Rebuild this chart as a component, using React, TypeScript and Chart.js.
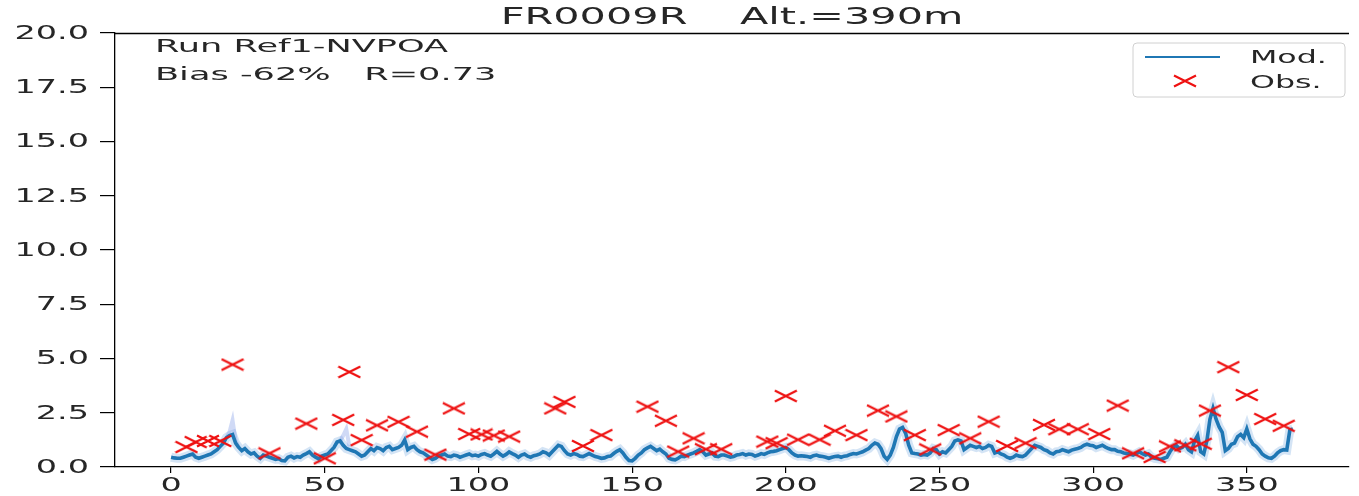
import React, { useEffect, useRef } from "react";
import { Chart, registerables } from "chart.js";
Chart.register(...registerables);

const titleText = "FR0009R    Alt.=390m";
const annotLine1 = "Run Ref1-NVPOA";
const annotLine2 = "Bias -62%   R=0.73";
const legendMod = "Mod.";
const legendObs = "Obs.";

const xTickValues = [0, 50, 100, 150, 200, 250, 300, 350];
const yTickStep = 2.5;

// daily model values, day 0..365
const modValues = [
  0.45,0.42,0.40,0.40,0.45,0.50,0.55,0.60,0.45,0.40,
  0.45,0.50,0.55,0.60,0.70,0.80,0.95,1.10,1.35,1.45,
  1.50,1.10,0.90,0.75,0.85,0.70,0.60,0.65,0.50,0.40,
  0.55,0.50,0.45,0.40,0.35,0.38,0.30,0.28,0.45,0.50,
  0.42,0.48,0.45,0.55,0.62,0.70,0.55,0.45,0.38,0.50,
  0.55,0.60,0.75,0.90,1.15,1.20,1.00,0.85,0.80,0.75,
  0.70,0.60,0.50,0.55,0.70,0.85,0.75,0.90,0.85,0.75,
  0.90,0.95,0.80,0.85,0.90,1.00,1.25,0.80,0.90,0.95,
  0.80,0.70,0.65,0.55,0.45,0.35,0.40,0.50,0.55,0.60,
  0.50,0.48,0.55,0.52,0.45,0.50,0.55,0.60,0.52,0.55,
  0.50,0.58,0.62,0.55,0.50,0.60,0.72,0.60,0.50,0.58,
  0.70,0.62,0.55,0.45,0.55,0.60,0.50,0.45,0.52,0.55,
  0.60,0.70,0.65,0.55,0.70,0.85,1.00,0.95,0.75,0.60,
  0.55,0.62,0.58,0.50,0.48,0.55,0.62,0.55,0.48,0.45,
  0.40,0.42,0.48,0.50,0.62,0.72,0.80,0.65,0.45,0.30,
  0.28,0.40,0.55,0.65,0.80,0.88,0.95,0.85,0.75,0.82,
  0.70,0.60,0.40,0.35,0.33,0.40,0.50,0.48,0.55,0.60,
  0.65,0.72,0.80,0.70,0.55,0.60,0.65,0.50,0.48,0.55,
  0.55,0.50,0.45,0.48,0.55,0.58,0.62,0.55,0.60,0.58,
  0.50,0.55,0.62,0.58,0.65,0.70,0.72,0.75,0.80,0.85,
  0.90,0.80,0.65,0.55,0.50,0.52,0.50,0.48,0.45,0.52,
  0.55,0.50,0.48,0.45,0.40,0.45,0.48,0.50,0.45,0.50,
  0.52,0.58,0.62,0.60,0.65,0.70,0.78,0.85,1.00,1.10,
  1.05,0.85,0.50,0.35,0.55,0.90,1.40,1.75,1.82,1.55,
  1.00,0.65,0.62,0.60,0.55,0.58,0.55,0.65,0.85,0.80,
  0.60,0.70,0.65,0.80,0.95,1.20,1.25,1.20,0.80,0.90,
  1.00,0.95,0.90,0.95,0.85,0.90,1.00,0.95,0.65,0.70,
  0.60,0.55,0.45,0.40,0.45,0.55,0.50,0.48,0.55,0.70,
  0.85,1.00,0.95,0.90,0.80,0.75,0.65,0.60,0.70,0.72,
  0.80,0.75,0.70,0.78,0.82,0.85,0.90,1.00,1.05,1.00,
  0.98,0.90,0.95,1.00,0.92,0.85,0.80,0.80,0.72,0.70,
  0.65,0.62,0.60,0.55,0.62,0.70,0.62,0.55,0.60,0.45,
  0.40,0.38,0.35,0.40,0.45,0.70,0.90,1.00,0.85,0.90,
  1.05,0.80,0.70,1.20,1.45,0.70,0.60,1.20,2.20,2.70,
  2.20,1.85,1.60,0.75,0.85,1.05,1.10,1.40,1.50,1.35,
  1.75,1.30,1.05,0.95,0.80,0.60,0.50,0.42,0.40,0.50,
  0.65,0.75,0.80,0.78,1.70,1.75,
];

// upper edge of the ensemble spread where it sticks out above the line
const bandDays = [18, 19, 20, 21, 22, 23, 55, 56, 57, 58, 59];
const bandHigh = [1.35, 1.6, 2.15, 1.2, 0.9, null, 1.2, 1.45, 1.75, 0.95, null];

const obsDays = [5,8,12,16,20,32,44,50,56,58,62,67,74,80,86,92,97,101,105,110,125,128,134,140,155,161,165,170,174,179,194,197,200,204,211,216,223,230,236,242,247,253,260,266,272,278,284,289,295,302,308,313,320,325,330,335,338,344,350,356,362];
const obsValues = [0.92,1.15,1.2,1.2,4.72,0.63,2.0,0.4,2.17,4.38,1.24,1.92,2.08,1.63,0.57,2.7,1.52,1.5,1.45,1.4,2.7,3.0,0.97,1.47,2.78,2.13,0.71,1.32,0.82,0.82,1.17,1.1,3.27,1.26,1.26,1.67,1.47,2.6,2.33,1.47,0.81,1.7,1.32,2.09,0.97,1.1,1.94,1.74,1.74,1.52,2.83,0.63,0.46,0.95,1.0,1.07,2.6,4.6,3.32,2.21,1.9];

const FONT = "DejaVu Sans";
const TEXT_COLOR = "#262626";
const SX = 1.76;

function makeCross(): HTMLCanvasElement {
  const c = document.createElement("canvas");
  c.width = 24;
  c.height = 14;
  const g = c.getContext("2d")!;
  g.strokeStyle = "#ee1111";
  g.lineWidth = 2.2;
  g.lineCap = "butt";
  g.beginPath();
  g.moveTo(1, 1.5);
  g.lineTo(23, 12.5);
  g.moveTo(1, 12.5);
  g.lineTo(23, 1.5);
  g.stroke();
  return c;
}

function stretchText(
  ctx: CanvasRenderingContext2D,
  text: string,
  x: number,
  y: number,
  size: number,
  sx: number,
  align: "left" | "center" | "right",
  baseline: CanvasTextBaseline
) {
  ctx.save();
  ctx.font = `${size}px "${FONT}"`;
  ctx.textAlign = "left";
  ctx.textBaseline = baseline;
  ctx.fillStyle = TEXT_COLOR;
  const w = ctx.measureText(text).width * sx;
  const x0 = align === "left" ? x : align === "center" ? x - w / 2 : x - w;
  ctx.translate(x0, y);
  ctx.scale(sx, 1);
  ctx.fillText(text, 0, 0);
  ctx.restore();
}

export default function App() {
  const ref = useRef<HTMLCanvasElement | null>(null);

  useEffect(() => {
    document.body.style.margin = "0";
    const canvas = ref.current!;
    const cross = makeCross();

    const modPoints = modValues.map((v, i) => ({ x: i, y: v }));
    const bandPoints = bandDays.map((d, i) => ({ x: d, y: bandHigh[i] }));
    const obsPoints = obsDays.map((d, i) => ({ x: d, y: obsValues[i] }));

    const decor = {
      id: "decor",
      afterDraw(chart: any) {
        const ctx: CanvasRenderingContext2D = chart.ctx;
        const a = chart.chartArea;
        const xs = chart.scales.x;
        const ys = chart.scales.y;
        // top spine
        ctx.save();
        ctx.strokeStyle = "#000";
        ctx.lineWidth = 1.3;
        ctx.beginPath();
        ctx.moveTo(a.left, a.top + 0.5);
        ctx.lineTo(a.right, a.top + 0.5);
        ctx.stroke();
        ctx.restore();

        // tick labels
        ys.ticks.forEach((t: any) => {
          stretchText(ctx, Number(t.value).toFixed(1), 89, ys.getPixelForValue(t.value) + 1, 19, SX, "right", "middle");
        });
        xs.ticks.forEach((t: any) => {
          stretchText(ctx, String(t.value), xs.getPixelForValue(t.value), a.bottom + 10, 19, SX, "center", "top");
        });

        // title
        stretchText(ctx, titleText, (a.left + a.right) / 2, 24, 23, 1.8, "center", "alphabetic");

        // annotation
        stretchText(ctx, annotLine1, 155, 52, 18.5, 1.9, "left", "alphabetic");
        stretchText(ctx, annotLine2, 155, 80, 18.5, 1.9, "left", "alphabetic");

        // legend
        const lx = 1133, ly = 43, lw = 212, lh = 54, r = 4;
        ctx.save();
        ctx.fillStyle = "rgba(255,255,255,0.85)";
        ctx.strokeStyle = "#d0d0d0";
        ctx.lineWidth = 1;
        ctx.beginPath();
        ctx.moveTo(lx + r, ly);
        ctx.lineTo(lx + lw - r, ly);
        ctx.quadraticCurveTo(lx + lw, ly, lx + lw, ly + r);
        ctx.lineTo(lx + lw, ly + lh - r);
        ctx.quadraticCurveTo(lx + lw, ly + lh, lx + lw - r, ly + lh);
        ctx.lineTo(lx + r, ly + lh);
        ctx.quadraticCurveTo(lx, ly + lh, lx, ly + lh - r);
        ctx.lineTo(lx, ly + r);
        ctx.quadraticCurveTo(lx, ly, lx + r, ly);
        ctx.closePath();
        ctx.fill();
        ctx.stroke();
        ctx.strokeStyle = "#1f77b4";
        ctx.lineWidth = 2.2;
        ctx.beginPath();
        ctx.moveTo(1145, 57);
        ctx.lineTo(1220, 57);
        ctx.stroke();
        ctx.drawImage(cross, 1185 - 12, 81 - 7);
        ctx.restore();
        stretchText(ctx, legendMod, 1250, 63, 18, SX, "left", "alphabetic");
        stretchText(ctx, legendObs, 1250, 88, 18, SX, "left", "alphabetic");
      },
    };

    const chart = new Chart(canvas, {
      type: "line",
      data: {
        datasets: [
          {
            label: "Obs.",
            data: obsPoints,
            showLine: false,
            pointStyle: cross as any,
            pointRadius: 10,
            borderWidth: 0,
            order: 0,
          },
          {
            label: "Mod.",
            data: modPoints,
            borderColor: "#1f77b4",
            borderWidth: 3.6,
            pointRadius: 0,
            tension: 0,
            order: 1,
          },
          {
            label: "spread",
            data: bandPoints,
            borderColor: "rgba(120,150,230,0.35)",
            borderWidth: 4,
            pointRadius: 0,
            spanGaps: false,
            order: 2,
          },
          {
            label: "spread-body",
            data: modPoints,
            borderColor: "rgba(60,130,210,0.22)",
            borderWidth: 9,
            pointRadius: 0,
            tension: 0,
            order: 3,
          },
        ] as any,
      },
      options: {
        animation: false,
        responsive: false,
        devicePixelRatio: 1,
        layout: { padding: { top: 33, right: 0, left: 0, bottom: 0 } },
        plugins: {
          legend: { display: false },
          title: { display: false },
          tooltip: { enabled: false },
        },
        scales: {
          x: {
            type: "linear",
            min: -18.25,
            max: 383.25,
            afterBuildTicks: (s: any) => {
              s.ticks = xTickValues.map((v) => ({ value: v }));
            },
            afterFit: (s: any) => {
              s.height = 29;
            },
            ticks: { display: false },
            grid: { drawOnChartArea: false, drawTicks: true, tickLength: 6, color: "#000", lineWidth: 1.2 },
            border: { display: true, color: "#000", width: 1.3 },
          },
          y: {
            type: "linear",
            min: 0,
            max: 20,
            ticks: { display: false, stepSize: yTickStep },
            afterFit: (s: any) => {
              s.width = 115;
            },
            grid: { drawOnChartArea: false, drawTicks: true, tickLength: 15, color: "#000", lineWidth: 1.2 },
            border: { display: true, color: "#000", width: 1.3 },
          },
        },
      } as any,
      plugins: [decor],
    });
    return () => chart.destroy();
  }, []);

  return (
    <div style={{ width: 1359, height: 496, position: "relative", background: "#fff" }}>
      <canvas ref={ref} width={1359} height={496} style={{ display: "block" }} />
    </div>
  );
}
